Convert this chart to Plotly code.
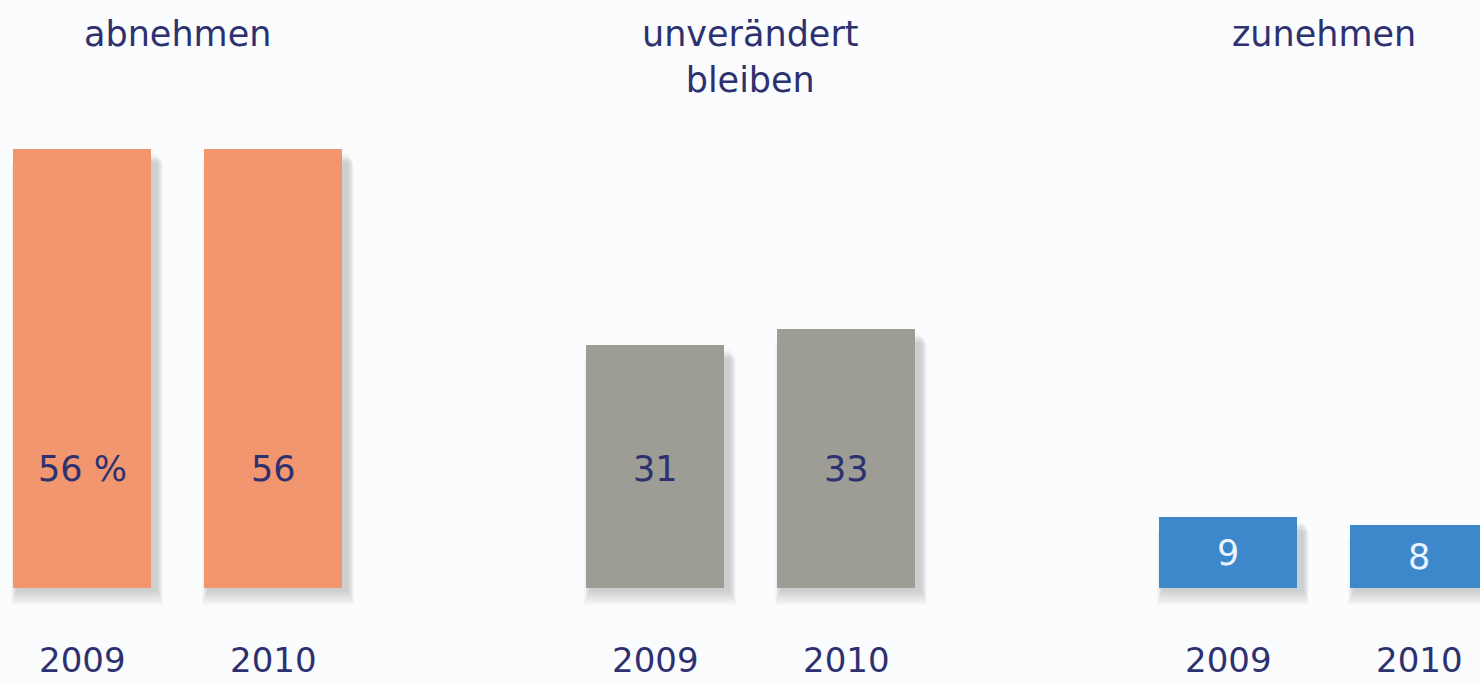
import plotly.graph_objects as go

categories = ["abnehmen", "unverändert<br>bleiben", "zunehmen"]
years = ["2009", "2010"]
values_2009 = [56, 31, 9]
values_2010 = [56, 33, 8]
value_labels_2009 = ["56 %", "31", "9"]
value_labels_2010 = ["56", "33", "8"]
colors = ["#F1966F", "#9D9C95", "#3C88CA"]
label_colors = ["#2E3170", "#2E3170", "#EAF4FF"]

BG = "#FBFCFD"
TXT = "#2E3170"
BAR_W = 0.7225
PX_PER_UNIT = 7.84
PX_PER_X = 191.0

series = [values_2009, values_2010]
labels = [value_labels_2009, value_labels_2010]

xs, ys, cols = [], [], []
for g in range(len(categories)):
    for j in range(len(years)):
        xs.append(g * 3 + j)
        ys.append(series[j][g])
        cols.append(colors[g])

fig = go.Figure()

# soft drop shadows (layered translucent bars)
for k in range(1, 9):
    dx = 5 / PX_PER_X
    grow = k * 1.8 / PX_PER_X
    drop = (1 + k * 2.0) / PX_PER_UNIT
    top_cut = (4 + k * 1.2) / PX_PER_UNIT
    fig.add_trace(go.Bar(
        x=[x + dx for x in xs],
        y=[v - top_cut + drop for v in ys],
        base=[-drop] * len(ys),
        width=BAR_W + grow,
        marker=dict(color="rgba(40,40,50,0.028)", line=dict(width=0)),
        hoverinfo="skip", showlegend=False,
    ))

fig.add_trace(go.Bar(
    x=xs, y=ys, width=BAR_W,
    marker=dict(color=cols, line=dict(width=0)),
    showlegend=False,
))

annotations = []
for g, cat in enumerate(categories):
    annotations.append(dict(
        x=g * 3 + 0.5, y=1 - 12 / 682, xref="x", yref="paper",
        text=cat, showarrow=False, yanchor="top", xanchor="center",
        font=dict(family="DejaVu Sans", size=35, color=TXT),
    ))
    for j, yr in enumerate(years):
        v = series[j][g]
        annotations.append(dict(
            x=g * 3 + j, y=min(v / 2, 15.2), xref="x", yref="y",
            text=labels[j][g], showarrow=False, yanchor="middle", xanchor="center",
            font=dict(family="DejaVu Sans", size=35, color=label_colors[g]),
        ))
        annotations.append(dict(
            x=g * 3 + j, y=0, xref="x", yref="paper",
            text=yr, showarrow=False, yanchor="bottom", xanchor="center",
            font=dict(family="DejaVu Sans", size=34, color=TXT),
        ))

fig.update_layout(
    width=1480, height=682,
    margin=dict(l=0, r=0, t=0, b=0),
    paper_bgcolor=BG, plot_bgcolor=BG,
    barmode="overlay", bargap=0,
    xaxis=dict(range=[-82 / PX_PER_X, (1480 - 82) / PX_PER_X], visible=False, fixedrange=True),
    yaxis=dict(range=[-94 / PX_PER_UNIT, 588 / PX_PER_UNIT], visible=False, fixedrange=True),
    annotations=annotations,
)

fig.write_html("out.html")
